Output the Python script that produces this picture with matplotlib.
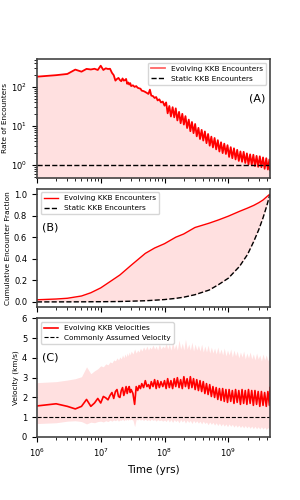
import numpy as np
import matplotlib
matplotlib.use("Agg")
import matplotlib.pyplot as plt

# time grid (Myr) shared by panels A and C
t_myr = [1, 2, 3, 4, 5, 6, 7, 8, 9, 10, 11, 12, 13, 14, 15, 16, 17, 18, 19, 20,
         21, 22, 23, 24, 25, 26, 27, 28, 29, 30,
         32, 34, 36, 38, 40, 42, 44, 47, 50, 53, 56, 59, 62, 66, 70, 74, 78, 83, 88, 94, 100,
         106, 112, 119, 126, 134, 142, 150, 159, 169, 179, 190, 201, 213, 226, 240, 254,
         269, 285, 302, 320, 340, 360, 382, 405, 429, 455, 482, 511, 542, 574, 609, 645,
         684, 725, 769, 815, 864, 916, 971, 1029, 1091, 1156, 1226, 1299, 1377, 1460,
         1548, 1641, 1739, 1843, 1954, 2071, 2196, 2327, 2467, 2615, 2772, 2938, 3115,
         3301, 3500, 3710, 3933, 4169, 4400, 4500]

# (A) encounter rate
rate = [183, 200, 215, 278, 246, 290, 280, 292, 272, 350, 272, 300, 288, 292, 230, 200,
        145, 160, 170, 150, 140, 165, 145, 150, 160, 120, 130, 115, 125, 105,
        110, 100, 105, 95, 92, 90, 80, 78, 74, 70, 66, 85, 60, 58, 52, 55, 45, 48, 40, 42, 33,
        40, 21, 32.4, 17.4, 30.2, 16.6, 28.2, 13.8, 22.9, 11.7, 20.4, 10.8, 17.8, 8.8, 14.5, 7.3,
        12.6, 6.5, 11.2, 5.4, 8.9, 4.6, 7.9, 4.2, 7.2, 3.6, 6.2, 3.1, 5.3, 2.8, 4.9, 2.5,
        4.3, 2.2, 3.8, 2.0, 3.5, 1.9, 3.2, 1.6, 2.85, 1.48, 2.66, 1.38, 2.43, 1.26,
        2.21, 1.20, 2.16, 1.12, 1.97, 1.02, 1.86, 1.0, 1.82, 0.93, 1.70, 0.89, 1.66,
        0.87, 1.55, 0.79, 1.48, 0.76, 1.38, 0.73]
static_rate = 1.0

# (C) velocities (km/s): mean and spread
vel = [1.57, 1.68, 1.55, 1.42, 1.55, 1.90, 1.55, 1.72, 1.95, 1.72, 2.05, 1.98, 1.88, 2.10,
       2.25, 1.95, 2.30, 2.40, 2.05, 2.00, 2.35, 2.50, 2.10, 2.30, 2.55, 2.20, 2.45, 2.55,
       2.25, 2.40,
       2.20, 1.65, 2.55, 2.35, 2.60, 2.45, 2.70, 2.50, 2.85, 2.55, 2.65, 2.45, 2.80, 2.55,
       2.90, 2.45, 2.85, 2.50, 2.80, 2.55, 2.85,
       2.45, 2.95, 2.50, 2.85, 2.45, 2.95, 2.55, 3.00, 2.50, 2.90, 2.45, 3.05, 2.55, 2.95,
       2.45, 3.05, 2.50, 2.95, 2.40, 2.90, 2.35, 2.85, 2.30, 2.80, 2.20, 2.70, 2.15, 2.65,
       2.05, 2.55, 2.00, 2.50, 1.90, 2.45, 1.85, 2.45, 1.80, 2.40, 1.75, 2.40, 1.80, 2.35,
       1.70, 2.40, 1.75, 2.35, 1.65, 2.40, 1.70, 2.35, 1.65, 2.40, 1.70, 2.35, 1.60, 2.35,
       1.65, 2.30, 1.55, 2.30, 1.60, 2.25, 1.55, 2.30, 1.60, 2.50]
vel_hi = [2.75, 2.80, 2.88, 2.95, 3.05, 3.55, 3.20, 3.35, 3.45, 3.60, 3.55, 3.70, 3.65,
          3.80, 3.75, 3.90, 3.85, 4.00, 3.90, 4.05, 3.95, 4.15, 4.00, 4.20, 4.05, 4.25,
          4.10, 4.30, 4.15, 4.35,
          4.20, 4.45, 4.25, 4.40, 4.30, 4.50, 4.35, 4.55, 4.40, 4.60, 4.40, 4.55, 4.45,
          4.65, 4.45, 4.60, 4.40, 4.70, 4.45, 4.60, 4.50,
          4.75, 4.45, 4.70, 4.40, 4.80, 4.45, 4.70, 4.40, 4.90, 4.45, 4.75, 4.40, 4.95,
          4.45, 4.70, 4.40, 4.80, 4.35, 4.70, 4.40, 4.65, 4.35, 4.70, 4.30, 4.60, 4.30,
          4.65, 4.25, 4.55, 4.25, 4.50, 4.20, 4.55, 4.20, 4.45, 4.15, 4.50, 4.10, 4.40,
          4.15, 4.45, 4.05, 4.40, 4.10, 4.35, 4.00, 4.30, 4.05, 4.35, 3.95, 4.25, 4.00,
          4.30, 3.95, 4.20, 3.90, 4.25, 3.95, 4.15, 3.85, 4.20, 3.90, 4.15, 3.85, 4.10, 3.90]
vel_lo = [0.68, 0.72, 0.80, 0.82, 0.78, 0.66, 0.75, 0.72, 0.78, 0.80, 0.76, 0.82, 0.78,
          0.85, 0.80, 0.86, 0.82, 0.88, 0.80, 0.86, 0.84, 0.90, 0.82, 0.88, 0.85, 0.90,
          0.84, 0.92, 0.86, 0.90,
          0.85, 0.52, 0.90, 0.86, 0.92, 0.85, 0.90, 0.84, 0.90, 0.83, 0.88, 0.82, 0.90,
          0.84, 0.88, 0.80, 0.88, 0.82, 0.86, 0.80, 0.86,
          0.78, 0.90, 0.76, 0.88, 0.74, 0.88, 0.78, 0.86, 0.72, 0.88, 0.76, 0.86, 0.70,
          0.85, 0.74, 0.84, 0.68, 0.84, 0.72, 0.82, 0.70, 0.80, 0.66, 0.80, 0.68, 0.76,
          0.62, 0.76, 0.64, 0.74, 0.60, 0.72, 0.58, 0.70, 0.56, 0.68, 0.55, 0.66, 0.52,
          0.66, 0.54, 0.64, 0.50, 0.62, 0.50, 0.60, 0.48, 0.58, 0.46, 0.58, 0.46, 0.56,
          0.44, 0.55, 0.42, 0.54, 0.42, 0.52, 0.40, 0.52, 0.40, 0.50, 0.38, 0.48, 0.38, 0.45]
assumed_vel = 1.0

# (B) cumulative fractions
tb_myr = [1, 2, 3, 5, 7, 10, 15, 20, 30, 50, 70, 100, 150, 200, 300, 500, 700, 1000,
          1500, 2000, 2500, 3000, 3500, 4000, 4500]
cum_evolving = [0.020, 0.027, 0.034, 0.055, 0.085, 0.13, 0.20, 0.25, 0.34, 0.45, 0.50,
                0.54, 0.60, 0.63, 0.69, 0.73, 0.76, 0.795, 0.84, 0.87, 0.895, 0.92,
                0.945, 0.975, 1.0]
cum_static = [0.0002, 0.0004, 0.0007, 0.001, 0.0016, 0.002, 0.003, 0.004, 0.007, 0.011,
              0.016, 0.022, 0.033, 0.044, 0.067, 0.11, 0.16, 0.22, 0.33, 0.44, 0.56,
              0.67, 0.78, 0.89, 1.0]

t = np.array(t_myr) * 1e6
tb = np.array(tb_myr) * 1e6
fill_c = (1.0, 0.0, 0.0, 0.12)
fs = 6
lfs = 5.3

fig, axs = plt.subplots(3, 1, figsize=(3, 5), dpi=100, sharex=True)
fig.subplots_adjust(left=0.123, right=0.9, top=0.882, bottom=0.126, hspace=0.093)

# panel A
ax = axs[0]
ax.fill_between(t, 1e-3, rate, color=fill_c, lw=0)
ax.plot(t, rate, color='red', lw=1.3, label='Evolving KKB Encounters')
ax.axhline(static_rate, color='k', ls='--', lw=1, label='Static KKB Encounters')
ax.set_yscale('log')
ax.set_ylim(0.47, 520)
ax.set_ylabel('Rate of Encounters', fontsize=lfs, labelpad=2)
leg = ax.legend(loc='upper right', fontsize=lfs)
leg.get_lines()[0].set_alpha(0.6)
ax.text(0.98, 0.67, '(A)', transform=ax.transAxes, ha='right', va='center', fontsize=8)

# panel B
ax = axs[1]
ax.fill_between(tb, cum_static, cum_evolving, color=fill_c, lw=0)
ax.plot(tb, cum_evolving, color='red', lw=1, label='Evolving KKB Encounters')
ax.plot(tb, cum_static, color='k', ls='--', lw=1, label='Static KKB Encounters')
ax.set_ylim(-0.05, 1.05)
ax.set_yticks([0.0, 0.2, 0.4, 0.6, 0.8, 1.0])
ax.set_ylabel('Cumulative Encounter Fraction', fontsize=lfs, labelpad=2)
ax.legend(loc='upper left', fontsize=lfs)
ax.text(0.02, 0.67, '(B)', transform=ax.transAxes, ha='left', va='center', fontsize=8)

# panel C
ax = axs[2]
ax.fill_between(t, vel_lo, vel_hi, color=fill_c, lw=0)
ax.plot(t, vel, color='red', lw=1.2, label='Evolving KKB Velocities')
ax.axhline(assumed_vel, color='k', ls='--', lw=0.8, label='Commonly Assumed Velocity')
ax.set_ylim(0, 6)
ax.set_ylabel('Velocity (km/s)', fontsize=lfs, labelpad=2)
ax.set_xlabel('Time (yrs)', fontsize=7.5)
ax.legend(loc='upper left', fontsize=lfs)
ax.text(0.02, 0.67, '(C)', transform=ax.transAxes, ha='left', va='center', fontsize=8)

for ax in axs:
    ax.set_xscale('log')
    ax.set_xlim(1e6, 4.5e9)
    ax.tick_params(labelsize=fs)
    for s in ax.spines.values():
        s.set_color('#444444')
        s.set_linewidth(1.2)

plt.savefig('out.png', dpi=100)
